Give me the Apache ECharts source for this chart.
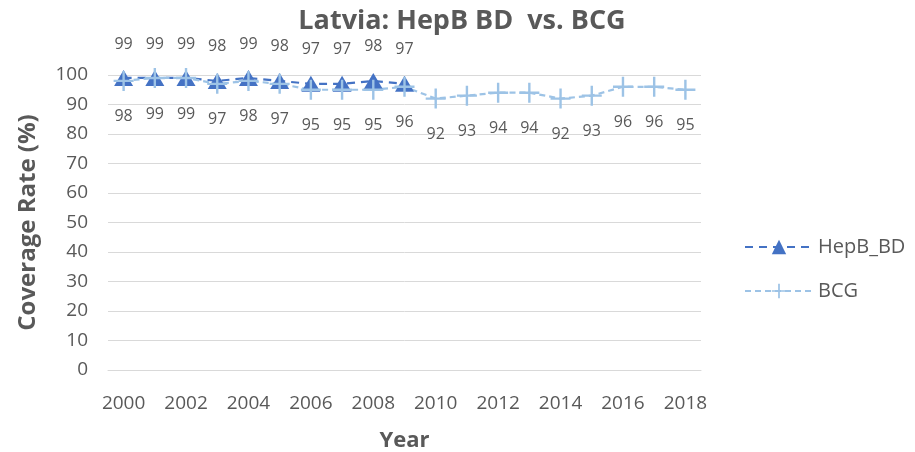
<!DOCTYPE html>
<html>
<head>
<meta charset="utf-8" />
<title>Latvia: HepB BD vs. BCG</title>
<script src="https://cdn.jsdelivr.net/npm/echarts@6/dist/echarts.min.js"></script>
<style>
  html, body { margin: 0; padding: 0; background: #fff; }
  #chart { width: 915px; height: 452px; }
</style>
</head>
<body>
<div id="chart"></div>
<script>
// 数据
var years = ['2000','2001','2002','2003','2004','2005','2006','2007','2008','2009',
             '2010','2011','2012','2013','2014','2015','2016','2017','2018'];
var hepbBD = [99, 99, 99, 98, 99, 98, 97, 97, 98, 97];
var bcg = [98, 99, 99, 97, 98, 97, 95, 95, 95, 96, 92, 93, 94, 94, 92, 93, 96, 96, 95];
var yTicks = [0, 10, 20, 30, 40, 50, 60, 70, 80, 90, 100];

var plusPath = 'path://M4.4,0h1.2v4.4h4.4v1.2h-4.4v4.4h-1.2v-4.4h-4.4v-1.2h4.4z';
var txt = '#595959';
var font = '"Open Sans", "Noto Sans", sans-serif';

var chart = echarts.init(document.getElementById('chart'));
var option = {
  animation: false,
  textStyle: { fontFamily: font },
  title: {
    text: 'Latvia: HepB BD  vs. BCG',
    left: 457, top: 3, textAlign: 'center',
    textStyle: { fontSize: 27, fontWeight: 'bold', color: txt, fontFamily: font }
  },
  legend: {
    orient: 'vertical',
    left: 739, top: 232,
    itemWidth: 68, itemHeight: 18, itemGap: 24,
    textStyle: { fontSize: 20, color: txt, fontFamily: font },
    data: ['HepB_BD', 'BCG']
  },
  grid: { left: 108, right: 214, top: 75, bottom: 82, outerBoundsMode: 'none', containLabel: false },
  xAxis: {
    type: 'category',
    data: years,
    name: 'Year', nameLocation: 'middle', nameGap: 60,
    nameTextStyle: { fontSize: 22, fontWeight: 'bold', color: txt, fontFamily: font },
    axisTick: { show: false },
    axisLine: { lineStyle: { color: '#d9d9d9' } },
    axisLabel: { interval: 1, fontSize: 19, color: txt, margin: 24, fontFamily: font }
  },
  yAxis: {
    type: 'value', min: 0, max: 100, interval: 10,
    name: 'Coverage Rate (%)', nameLocation: 'middle', nameGap: 68,
    nameTextStyle: { fontSize: 24, fontWeight: 'bold', color: txt, fontFamily: font },
    axisLine: { show: false }, axisTick: { show: false },
    splitLine: { lineStyle: { color: '#d9d9d9', width: 1 } },
    axisLabel: {
      fontSize: 19, color: txt, margin: 20, fontFamily: font,
      formatter: function (v) { return yTicks.indexOf(v) >= 0 ? v : ''; }
    }
  },
  series: [
    {
      name: 'HepB_BD', type: 'line', data: hepbBD,
      symbol: 'triangle', symbolSize: [19, 16],
      lineStyle: { color: '#4472C4', width: 2.2, type: [8, 6] },
      itemStyle: { color: '#4472C4' },
      label: { show: true, position: 'top', distance: 18, fontSize: 16, color: txt, fontFamily: font }
    },
    {
      name: 'BCG', type: 'line', data: bcg,
      symbol: plusPath, symbolSize: 20,
      lineStyle: { color: '#9DC3E6', width: 2.2, type: [6, 4] },
      itemStyle: { color: '#9DC3E6' },
      label: { show: true, position: 'bottom', distance: 18, fontSize: 16, color: txt, fontFamily: font }
    }
  ]
};
chart.setOption(option);
</script>
</body>
</html>
